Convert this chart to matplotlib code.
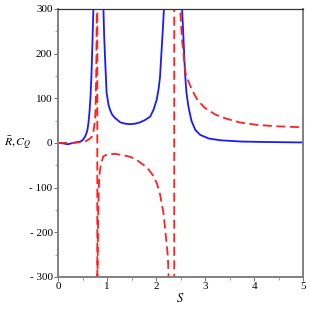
import numpy as np
import matplotlib
matplotlib.use("Agg")
from matplotlib import pyplot as plt
from matplotlib.ticker import MultipleLocator, FixedLocator, FixedFormatter

my_dpi = 100
nan = np.nan
big = 3000

# blue solid curve, branches split by nan
blue_s = [0.0, 0.1, 0.2, 0.3, 0.4, 0.45, 0.5, 0.55, 0.58, 0.6, 0.62, 0.64, 0.66, 0.68, 0.70, 0.72, 0.74, nan,
          0.91, 0.925, 0.94, 0.96, 0.99, 1.03, 1.06, 1.1, 1.16, 1.27, 1.37, 1.47, 1.57, 1.67, 1.77,
          1.88, 1.95, 2.01, 2.05, 2.08, 2.1, 2.13, 2.16, 2.18, nan,
          2.51, 2.53, 2.56, 2.59, 2.62, 2.66, 2.72, 2.8, 2.9, 3.07, 3.3, 3.75, 4.25, 5.0]
blue_v = [0, -1, -3, 0, 2, 3, 6, 14, 22, 30, 45, 68, 100, 150, 220, 300, 500, nan,
          450, 300, 240, 186, 112, 85, 74, 64, 56, 46, 43, 42, 43, 46, 51,
          59, 75, 96, 120, 148, 186, 240, 300, 450, nan,
          450, 300, 230, 156, 112, 81, 50, 29, 18, 10, 6, 3, 2, 1]

# red dashed curve, joined across the poles like the original
red_s = [0.0, 0.1, 0.2, 0.3, 0.4, 0.5, 0.55, 0.6, 0.65, 0.69, 0.72, 0.755, 0.77, 0.78, 0.79, 0.8,
         0.8, 0.805, 0.815, 0.83, 0.85, 0.88, 0.925, 1.0, 1.16, 1.3, 1.47, 1.6, 1.74, 1.85, 1.95,
         2.02, 2.08, 2.15, 2.2, 2.24, 2.255, 2.3, 2.37, 2.37, 2.45,
         2.49, 2.53, 2.6, 2.67, 2.73, 2.85, 3.0, 3.2, 3.41, 3.7, 4.08, 4.5, 5.0]
red_v = [0, 0, 0, 0, 1, 2, 3, 6, 10, 14, 25, 51, 100, 180, 300, big,
         -big, -300, -180, -100, -65, -45, -30, -26, -24.5, -27, -31, -38, -49, -60, -75,
         -92, -115, -157, -210, -254, -300, -big, -big, big, big,
         300, 230, 156, 135, 119, 95, 78, 64, 55, 46, 40, 37, 35]

x_ticks = [0, 1, 2, 3, 4, 5]
y_ticks = [-300, -200, -100, 0, 100, 200, 300]
y_labels = ["- 300", "- 200", "- 100", "0", "100", "200", "300"]

plt.rcParams['font.family'] = ['Liberation Serif', 'DejaVu Serif']
plt.rcParams['mathtext.fontset'] = 'stix'

fig = plt.figure(figsize=(309/my_dpi, 309/my_dpi), dpi=my_dpi, facecolor='w')
ax = fig.add_axes([0.188, 0.104, 0.793, 0.867])

ax.plot(blue_s, blue_v, color='#1a1aff', linewidth=1.3)
ax.plot(red_s, red_v, color='#ff2020', linewidth=1.3, linestyle=(0, (5, 2.5)))

ax.set_xlim(0, 5)
ax.set_ylim(-300, 300)

ax.xaxis.set_major_locator(FixedLocator(x_ticks))
ax.xaxis.set_minor_locator(MultipleLocator(0.5))
ax.yaxis.set_major_locator(FixedLocator(y_ticks))
ax.yaxis.set_major_formatter(FixedFormatter(y_labels))
ax.yaxis.set_minor_locator(MultipleLocator(50))
ax.tick_params(which='major', direction='out', length=3, width=0.6, labelsize=8, pad=1,
               colors='#555555', labelcolor='black')
ax.tick_params(which='minor', direction='out', length=2, width=0.5, colors='#777777')

for side in ['left', 'bottom', 'right']:
    ax.spines[side].set_color('#808080')
    ax.spines[side].set_linewidth(1.4)
ax.spines['top'].set_color('#333333')
ax.spines['top'].set_linewidth(0.9)

fig.text(0.058, 0.537, r'$\bar{R}, C_Q$', fontsize=8.5, ha='center', va='center')
fig.text(0.583, 0.035, r'$S$', fontsize=9, ha='center', va='center')

plt.savefig("out.png", dpi=my_dpi)
